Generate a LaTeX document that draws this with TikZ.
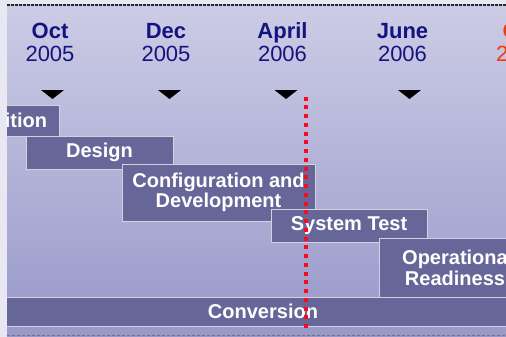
\documentclass[tikz,border=0pt]{standalone}
\usepackage{fontspec}
\setmainfont{Liberation Sans}
\usepackage{tikz}
\usetikzlibrary{positioning}
\usepackage{xcolor}

\definecolor{bgtop}{RGB}{204,204,230}
\definecolor{bgbot}{RGB}{152,152,202}
\definecolor{strip}{RGB}{232,232,242}
\definecolor{phasefill}{RGB}{102,102,153}
\definecolor{navy}{RGB}{20,20,128}
\definecolor{today}{RGB}{250,10,30}
\definecolor{later}{RGB}{240,60,10}

\tikzset{
  phasebox/.style={draw=white!70!phasefill,line width=0.8pt,fill=phasefill,text=white,
    font=\fontsize{20}{20}\selectfont\bfseries,align=center,inner sep=0pt},
  month/.style={text=navy,font=\fontsize{22}{23}\selectfont\bfseries,inner sep=0pt},
  year/.style={text=navy,font=\fontsize{22}{23}\selectfont,inner sep=0pt},
}

\begin{document}
\begin{tikzpicture}[x=1pt,y=-1pt]
\useasboundingbox (0,0) rectangle (506,337);
\fill [strip] (0,0) rectangle (506,337);
\shade [top color=bgtop,bottom color=bgbot] (7,5) rectangle (506,337);
\begin{scope}
\clip (7,0) rectangle (506,337);
\draw [black!85,line width=1.3pt,dash pattern=on 2.5pt off 1.5pt](7,5)--(506,5);
\draw [black!55,line width=1pt,dash pattern=on 3pt off 2pt](7,335)--(506,335);

% dates
\foreach \x/\mon/\yr in {50/Oct/2005,166/Dec/2005,282.5/April/2006,402.5/June/2006}{
  \node [month,anchor=base] (m-\mon) at (\x,39) {\mon};
  \node [year,anchor=base] (y-\mon) at (\x,62) {\yr};
}
\node [month,text=later,anchor=base west] (m-next) at (502.5,39) {O};
\node [year,text=later,anchor=base west] (y-next) at (496,62) {2};
\foreach \x in {52.5,169.5,286,409.5}
  \fill [black] (\x-11.5,90)--(\x+11.5,90)--(\x,99)--cycle;

% phases
\node [phasebox,minimum width=66pt,minimum height=31pt] (acq) at (26,120.5) {ition};
\node [phasebox,minimum width=147pt,minimum height=33pt] (design) at (99.5,152.5) {Design};
\node [phasebox,minimum width=193pt,minimum height=57pt] (config) at (218.5,192.5) {Configuration and\\Development};
\node [phasebox,minimum width=156pt,minimum height=33pt] (systest) at (349,225.5) {System Test};
\node [phasebox,minimum width=152pt,minimum height=59pt,font=\fontsize{20}{21}\selectfont\bfseries] (opready) at (455,267.5) {Operationa\\Readiness};
\node [phasebox,minimum width=526pt,minimum height=29pt] (conv) at (263,311.5) {Conversion};

% today
\coordinate (now-top) at (305.5,96.7);
\coordinate (now-bot) at (305.5,331);
\draw [today,line width=4pt,dash pattern=on 4pt off 4.75pt](now-top)--(now-bot);
\end{scope}
\end{tikzpicture}
\end{document}
